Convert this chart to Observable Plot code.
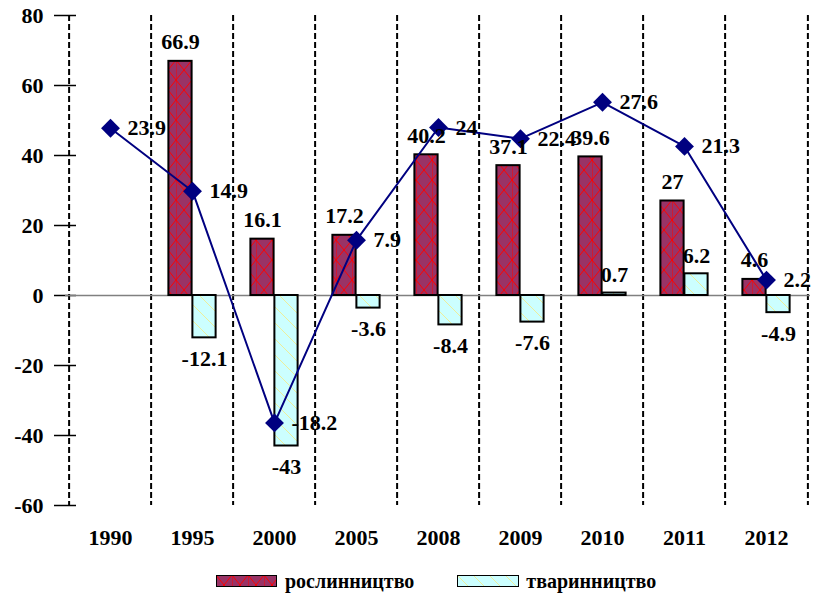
<!DOCTYPE html>
<html>
<head>
<meta charset="utf-8">
<script src="https://cdn.jsdelivr.net/npm/d3@7"></script>
<script src="https://cdn.jsdelivr.net/npm/@observablehq/plot@0.6"></script>
<style>
  html, body { margin: 0; padding: 0; background: #fff; }
  #wrap { width: 814px; height: 594px; position: relative; overflow: hidden; }
  .legend { position: absolute; left: 0; top: 568px; height: 26px; width: 814px;
    display: flex; align-items: center; font-family: 'Liberation Serif','Times New Roman',serif;
    font-weight: bold; font-size: 20px; color: #000; }
  .legend svg { display: block; }
</style>
</head>
<body>
<svg width="0" height="0" style="position:absolute">
  <defs>
    <pattern id="hatchRed" patternUnits="userSpaceOnUse" width="16" height="20">
      <rect width="16" height="20" fill="#993366"></rect>
      <path d="M0,0L16,20M16,0L0,20M0,0V20" stroke="#ff0000" stroke-width="1" fill="none"></path>
    </pattern>
    <pattern id="hatchCyan" patternUnits="userSpaceOnUse" width="16" height="16">
      <rect width="16" height="16" fill="#ccffff"></rect>
      <path d="M0,0L16,16M-4,12L4,20M12,-4L20,4" stroke="#eeee99" stroke-width="1" fill="none"></path>
    </pattern>
  </defs>
</svg>
<div id="wrap">
  <div id="chart"></div>
  <div class="legend">
    <svg width="61" height="12" style="margin-left:216px"><rect x="0.5" y="0.5" width="60" height="11" fill="url(#hatchRed)" stroke="#000" stroke-width="1"></rect></svg>
    <span style="margin-left:8px">рослинництво</span>
    <svg width="62" height="12" style="margin-left:43px"><rect x="0.5" y="0.5" width="61" height="11" fill="url(#hatchCyan)" stroke="#000" stroke-width="1"></rect></svg>
    <span style="margin-left:7px">тваринництво</span>
  </div>
</div>
<script>
// Categories (years)
const years = ["1990", "1995", "2000", "2005", "2008", "2009", "2010", "2011", "2012"];
// рослинництво (bars)
const cropValues = [null, 66.9, 16.1, 17.2, 40.2, 37.1, 39.6, 27, 4.6];
// тваринництво (bars)
const livestockValues = [null, -12.1, -43, -3.6, -8.4, -7.6, 0.7, 6.2, -4.9];
// line series (drawn on a hidden secondary axis −30…40, aligned with primary −60…80)
const totalValues = [23.9, 14.9, -18.2, 7.9, 24, 22.4, 27.6, 21.3, 2.2];
// y-axis tick labels
const yTicks = [-60, -40, -20, 0, 20, 40, 60, 80];
const secondaryFactor = 80 / 40; // primary max / secondary max

const crop = years.map((year, i) => ({year, v: cropValues[i]})).filter(d => d.v !== null);
const livestock = years.map((year, i) => ({year, v: livestockValues[i]})).filter(d => d.v !== null);
const total = years.map((year, i) => ({year, v: totalValues[i]}));

const W = 814, H = 560;
const mL = 65, mR = 4;
const half = (W - mL - mR) / years.length / 2;
const barW = 24;
const fmt = d => String(d);

const chart = Plot.plot({
  width: W,
  height: H,
  marginLeft: mL,
  marginRight: mR,
  marginTop: 15,
  marginBottom: 55,
  style: {
    fontFamily: "'Liberation Serif','Times New Roman',serif",
    fontSize: "22px",
    fontWeight: "bold",
    background: "white",
    overflow: "visible",
    color: "black"
  },
  x: {type: "band", domain: years, padding: 0},
  y: {domain: [-60, 80]},
  marks: [
    // dashed category separators (first one doubles as y axis)
    Plot.ruleX(years, {x: d => d, dx: -half, stroke: "black", strokeWidth: 2, strokeDasharray: "6,3"}),
    Plot.ruleX([years[years.length - 1]], {x: d => d, dx: half, stroke: "black", strokeWidth: 2, strokeDasharray: "6,3"}),
    // y tick marks crossing the axis
    Plot.axisY(yTicks, {tickSize: 22, dx: 11, tickFormat: () => "", label: null, stroke: "black", strokeWidth: 1.5}),
    // y tick labels
    Plot.text(yTicks, {y: d => d, text: fmt, frameAnchor: "left", dx: -22, textAnchor: "end", lineAnchor: "middle", fill: "black"}),
    // x labels
    Plot.axisX({tickSize: 0, tickPadding: 24, label: null, fill: "black"}),
    // zero line
    Plot.ruleY([0], {stroke: "#808080", strokeWidth: 1.5}),
    Plot.barY(crop, {x: "year", y: "v", fill: "url(#hatchRed)", stroke: "black", strokeWidth: 2,
      insetLeft: half - barW, insetRight: half}),
    Plot.barY(livestock, {x: "year", y: "v", fill: "url(#hatchCyan)", stroke: "black", strokeWidth: 2,
      insetLeft: half, insetRight: half - barW}),
    Plot.line(total, {x: "year", y: d => d.v * secondaryFactor, stroke: "#000080", strokeWidth: 2}),
    Plot.dot(total, {x: "year", y: d => d.v * secondaryFactor, symbol: "diamond2", r: 8.5, fill: "#000080", stroke: "none"}),
    // bar labels
    Plot.text(crop.filter(d => d.v >= 0), {x: "year", y: "v", text: d => fmt(d.v), dx: -barW / 2, dy: -19, lineAnchor: "middle", fill: "black"}),
    Plot.text(livestock.filter(d => d.v >= 0), {x: "year", y: "v", text: d => fmt(d.v), dx: barW / 2, dy: -18, lineAnchor: "middle", fill: "black"}),
    Plot.text(livestock.filter(d => d.v < 0), {x: "year", y: "v", text: d => fmt(d.v), dx: barW / 2, dy: 21, lineAnchor: "middle", fill: "black"}),
    // line labels
    Plot.text(total, {x: "year", y: d => d.v * secondaryFactor, text: d => fmt(d.v), dx: 17, textAnchor: "start", lineAnchor: "middle", fill: "black"})
  ]
});
document.getElementById("chart").appendChild(chart);
</script>
</body>
</html>
